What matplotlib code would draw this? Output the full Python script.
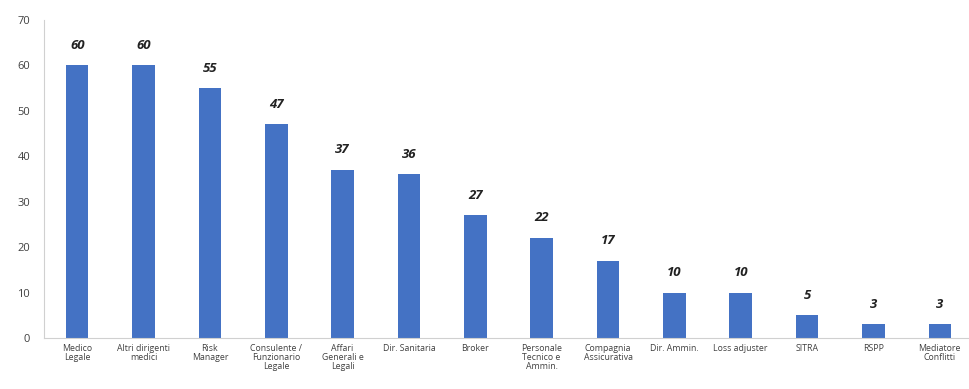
import matplotlib
matplotlib.use("Agg")
import matplotlib.pyplot as plt

categories = [
    "Medico\nLegale", "Altri dirigenti\nmedici", "Risk\nManager",
    "Consulente /\nFunzionario\nLegale", "Affari\nGenerali e\nLegali",
    "Dir. Sanitaria", "Broker", "Personale\nTecnico e\nAmmin.",
    "Compagnia\nAssicurativa", "Dir. Ammin.", "Loss adjuster", "SITRA",
    "RSPP", "Mediatore\nConflitti",
]
values = [60, 60, 55, 47, 37, 36, 27, 22, 17, 10, 10, 5, 3, 3]

plt.rcParams["font.family"] = ["Open Sans", "DejaVu Sans"]

fig = plt.figure(figsize=(9.69, 3.89), dpi=100)
ax = fig.add_axes([44 / 969, 1 - 338 / 389, 1 - 44 / 969, (338 - 20) / 389])

x = list(range(len(categories)))
ax.bar(x, values, width=0.34, color="#4472C4")

for xi, v in zip(x, values):
    ax.text(xi, v + 3, str(v), ha="center", va="bottom",
            fontsize=9.5, fontweight="bold", fontstyle="italic", color="#222222")

ax.set_xlim(-0.5, 13.44)
ax.set_ylim(0, 70)
ax.set_yticks(range(0, 71, 10))
ax.set_xticks(x)
ax.set_xticklabels(categories, fontsize=6.3, linespacing=1.0, color="#404040")
ax.tick_params(axis="y", labelsize=8, colors="#404040", length=0, pad=10)
ax.tick_params(axis="x", length=0, pad=4)

for side in ("top", "right"):
    ax.spines[side].set_visible(False)
ax.spines["left"].set_color("#d0d0d0")
ax.spines["bottom"].set_color("#d0d0d0")

fig.savefig("out.png", dpi=100)
